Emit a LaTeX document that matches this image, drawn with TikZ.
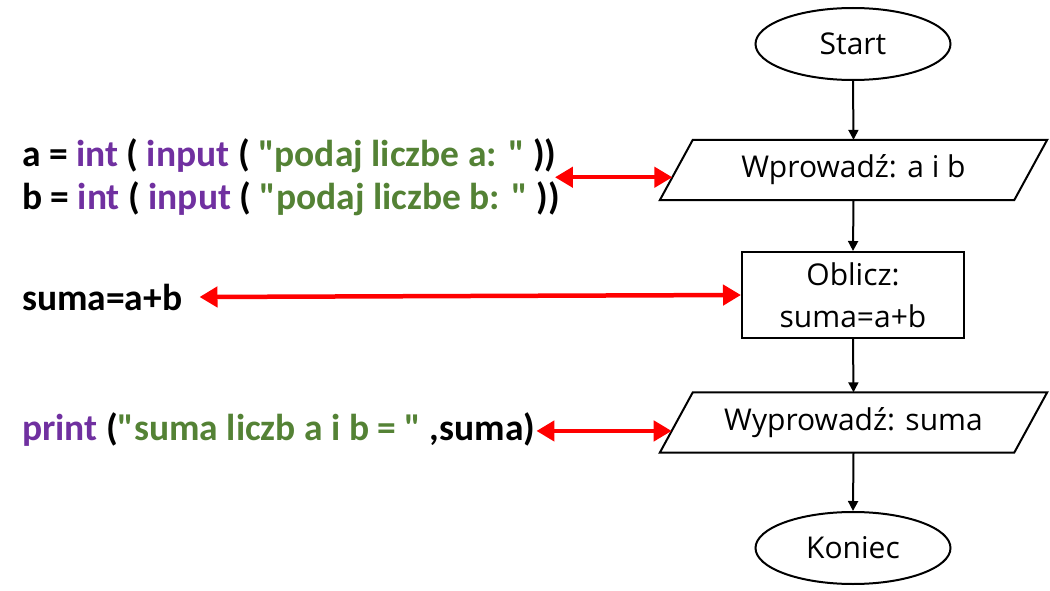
\documentclass[tikz,border=0pt]{standalone}
\usepackage{fontspec}
\setmainfont{Open Sans}
\newfontfamily\codefont{Carlito}
\usetikzlibrary{shapes.geometric,arrows.meta,calc}
\definecolor{kwpurple}{HTML}{7030A0}
\definecolor{strgreen}{HTML}{548235}
\definecolor{arrred}{HTML}{FF0000}
\begin{document}
\begin{tikzpicture}[x=1pt,y=-1pt,
  flowtext/.style={font=\fontsize{30}{42}\selectfont, inner sep=0pt},
  term/.style={flowtext, draw, line width=2pt, ellipse, minimum width=195pt, minimum height=72pt},
  procbox/.style={flowtext, draw, line width=2pt, minimum width=222pt, minimum height=86pt, align=center},
  iobox/.style={flowtext, minimum width=354pt, minimum height=60pt},
  iodraw/.style={draw, line width=2pt},
  code/.style={font=\codefont\bfseries\fontsize{37.5}{43}\selectfont, anchor=west, align=left, inner sep=1pt},
  flowarrow/.style={draw, line width=2pt, -{Triangle[length=10pt,width=10pt]}},
  redarrow/.style={draw=arrred, line width=4.5pt, {Triangle[length=18pt,width=20pt]}-{Triangle[length=18pt,width=20pt]}}
]
\useasboundingbox (0,0) rectangle (1050,591);

% flowchart nodes
\node[term] (start) at (853,44) {Start};
\node[iobox] (in) at (853.5,170) {Wprowadź: a i b};
\node[procbox] (calc) at (853,295) {Oblicz:\\suma=a+b};
\node[iobox] (out) at (853.5,422.5) {Wyprowadź: suma};
\node[term] (end) at (853,548) {Koniec};

% parallelograms
\coordinate (intl) at ([xshift=16.5pt]in.north west);
\coordinate (intr) at ([xshift=16.5pt]in.north east);
\coordinate (inbr) at ([xshift=-16.5pt]in.south east);
\coordinate (inbl) at ([xshift=-16.5pt]in.south west);
\path[iodraw] (intl) -- (intr) -- (inbr) -- (inbl) -- cycle;
\coordinate (outtl) at ([xshift=16.5pt]out.north west);
\coordinate (outtr) at ([xshift=16.5pt]out.north east);
\coordinate (outbr) at ([xshift=-16.5pt]out.south east);
\coordinate (outbl) at ([xshift=-16.5pt]out.south west);
\path[iodraw] (outtl) -- (outtr) -- (outbr) -- (outbl) -- cycle;

% flow arrows
\path[flowarrow] (start.south) -- (in.north);
\path[flowarrow] (in.south) -- (calc.north);
\path[flowarrow] (calc.south) -- (out.north);
\path[flowarrow] (out.south) -- (end.north);

% code
\node[code] (codein) at (21,177) {a = \textcolor{kwpurple}{int} ( \textcolor{kwpurple}{input} ( \textcolor{strgreen}{"podaj liczbe a: "} ))\\b = \textcolor{kwpurple}{int} ( \textcolor{kwpurple}{input} ( \textcolor{strgreen}{"podaj liczbe b: "} ))};
\node[code] (codesum) at (21,297) {suma=a+b};
\node[code] (codeprint) at (21,430) {\textcolor{kwpurple}{print} (\textcolor{strgreen}{"suma liczb a i b = "} ,suma)};

% red arrows
\coordinate (inedge) at ($(intl)!0.62!(inbl)$);
\coordinate (outedge) at ($(outtl)!0.64!(outbl)$);
\path[redarrow] ([xshift=-6pt]codein.east |- inedge) -- (inedge);
\path[redarrow] ([xshift=16pt]codesum.east) -- (calc.west);
\path[redarrow] (codeprint.east |- outedge) -- (outedge);
\end{tikzpicture}
\end{document}
